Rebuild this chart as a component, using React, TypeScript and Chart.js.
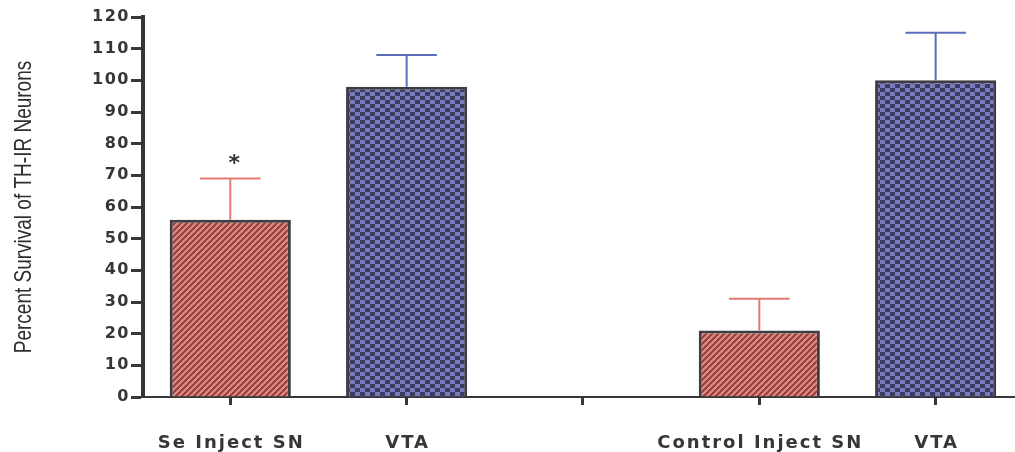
import React, { useEffect, useRef } from 'react';
import { Chart, registerables } from 'chart.js';
Chart.register(...registerables);

const categories = ['Se Inject SN', 'VTA', '', 'Control Inject SN', 'VTA'];
const snPositions = [0, 3];
const vtaPositions = [1, 4];
const snValues = [56, 21];
const snErrors = [13, 10];
const vtaValues = [98, 100];
const vtaErrors = [10, 15];
const snMarks = ['*', ''];
const vtaMarks = ['', ''];
const yTicks = [0, 10, 20, 30, 40, 50, 60, 70, 80, 90, 100, 110, 120];
const yTitle = 'Percent Survival of TH-IR Neurons';

const AXIS = '#36363a';

function makeStripes(): CanvasPattern | string {
  const n = 6;
  const c = document.createElement('canvas');
  c.width = n; c.height = n;
  const g = c.getContext('2d');
  if (!g) return '#c06058';
  const img = g.createImageData(n, n);
  for (let y = 0; y < n; y++) for (let x = 0; x < n; x++) {
    const i = (y * n + x) * 4;
    const dark = (x + y) % n < 3;
    const col = dark ? [158, 66, 64] : [214, 138, 128];
    img.data[i] = col[0]; img.data[i + 1] = col[1]; img.data[i + 2] = col[2]; img.data[i + 3] = 255;
  }
  g.putImageData(img, 0, 0);
  return g.createPattern(c, 'repeat') || '#c06058';
}

function makeChecks(): CanvasPattern | string {
  const w = 10, h = 8;
  const c = document.createElement('canvas');
  c.width = w; c.height = h;
  const g = c.getContext('2d');
  if (!g) return '#55558a';
  const img = g.createImageData(w, h);
  for (let y = 0; y < h; y++) for (let x = 0; x < w; x++) {
    const i = (y * w + x) * 4;
    const dark = (Math.floor(x / 5) + Math.floor(y / 4)) % 2 === 0;
    const col = dark ? [60, 60, 96] : [122, 122, 190];
    img.data[i] = col[0]; img.data[i + 1] = col[1]; img.data[i + 2] = col[2]; img.data[i + 3] = 255;
  }
  g.putImageData(img, 0, 0);
  return g.createPattern(c, 'repeat') || '#55558a';
}

const extrasPlugin = {
  id: 'extras',
  beforeDraw(chart: any) {
    chart.ctx.letterSpacing = '1.5px';
  },
  afterDatasetsDraw(chart: any) {
    const ctx = chart.ctx;
    const yScale = chart.scales.y;
    const groups = [
      { errs: snErrors, vals: snValues, marks: snMarks, color: '#e27a70' },
      { errs: vtaErrors, vals: vtaValues, marks: vtaMarks, color: '#5c6cb8' },
    ];
    groups.forEach((grp, di) => {
      const meta = chart.getDatasetMeta(di);
      meta.data.forEach((el: any, i: number) => {
        const top = yScale.getPixelForValue(grp.vals[i] + grp.errs[i]);
        const half = el.width * 0.25;
        ctx.save();
        ctx.strokeStyle = grp.color;
        ctx.lineWidth = 2;
        ctx.beginPath();
        ctx.moveTo(el.x, el.y);
        ctx.lineTo(el.x, top);
        ctx.moveTo(el.x - half, top);
        ctx.lineTo(el.x + half, top);
        ctx.stroke();
        if (grp.marks[i]) {
          ctx.letterSpacing = '0px';
          ctx.fillStyle = '#333';
          ctx.font = 'bold 22px "DejaVu Sans"';
          ctx.textAlign = 'center';
          ctx.textBaseline = 'middle';
          ctx.fillText(grp.marks[i], el.x + 4, top - 14);
        }
        ctx.restore();
      });
    });
  },
  afterDraw(chart: any) {
    const ctx = chart.ctx;
    const xScale = chart.scales.x;
    const area = chart.chartArea;
    ctx.save();
    ctx.fillStyle = AXIS;
    ctx.font = 'bold 18px "DejaVu Sans"';
    ctx.letterSpacing = '2px';
    ctx.textAlign = 'center';
    ctx.textBaseline = 'middle';
    categories.forEach((lab, i) => {
      if (!lab) return;
      ctx.fillText(lab, xScale.getPixelForValue(i) + 1, 443);
    });
    ctx.restore();

    ctx.save();
    ctx.letterSpacing = '0px';
    ctx.fillStyle = '#2e2e30';
    ctx.font = '19px "Liberation Sans", Arial, sans-serif';
    ctx.translate(24, (area.top + area.bottom) / 2);
    ctx.rotate(-Math.PI / 2);
    ctx.scale(1, 1.25);
    ctx.textAlign = 'center';
    ctx.textBaseline = 'middle';
    ctx.fillText(yTitle, 0, 0);
    ctx.restore();
  },
};

export default function App() {
  const ref = useRef<HTMLCanvasElement>(null);
  useEffect(() => {
    if (!ref.current) return;
    const stripes = makeStripes();
    const checks = makeChecks();
    const chart = new Chart(ref.current, {
      type: 'bar',
      data: {
        datasets: [
          {
            label: 'SN',
            data: snPositions.map((x, i) => ({ x, y: snValues[i] })),
            backgroundColor: stripes as any,
            borderColor: '#3d3d44',
            borderWidth: 3,
            grouped: false,
            barPercentage: 0.687,
            categoryPercentage: 1,
          } as any,
          {
            label: 'VTA',
            data: vtaPositions.map((x, i) => ({ x, y: vtaValues[i] })),
            backgroundColor: checks as any,
            borderColor: '#3d3d44',
            borderWidth: 3,
            grouped: false,
            barPercentage: 0.687,
            categoryPercentage: 1,
          } as any,
        ],
      },
      options: {
        animation: false,
        responsive: false,
        layout: { padding: { top: 17, right: 0, bottom: 0, left: 0 } },
        plugins: { legend: { display: false }, tooltip: { enabled: false } },
        scales: {
          x: {
            type: 'linear',
            offset: false,
            min: -0.495,
            max: 4.45,
            afterBuildTicks: (s: any) => { s.ticks = categories.map((_, i) => ({ value: i })); },
            afterFit: (s: any) => { s.height = 55; },
            ticks: { display: false },
            grid: { offset: false, drawOnChartArea: false, drawTicks: true, tickLength: 8, tickWidth: 3, tickColor: AXIS },
            border: { display: true, width: 2, color: AXIS },
          },
          y: {
            min: 0,
            max: 120,
            afterBuildTicks: (s: any) => { s.ticks = yTicks.map((v) => ({ value: v })); },
            afterFit: (s: any) => { s.width = 143; },
            ticks: { font: { family: 'DejaVu Sans', weight: 'bold', size: 16 }, color: AXIS, padding: 1 },
            grid: { drawOnChartArea: false, drawTicks: true, tickLength: 12, tickWidth: 3, tickColor: AXIS },
            border: { display: true, width: 4, color: AXIS },
          },
        },
      } as any,
      plugins: [extrasPlugin],
    });
    return () => chart.destroy();
  }, []);
  return (
    <div style={{ position: 'fixed', left: 0, top: 0, width: 1015, height: 452, background: '#fff' }}>
      <canvas ref={ref} width={1015} height={452} />
    </div>
  );
}
